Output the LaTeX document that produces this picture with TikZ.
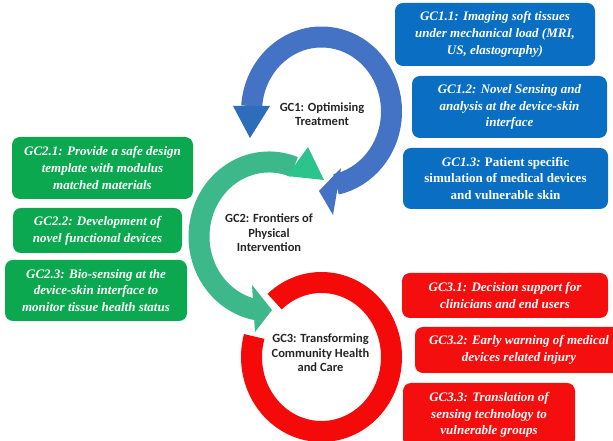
\documentclass[tikz,border=0pt]{standalone}
\usepackage{fontspec}
\setmainfont{Liberation Serif}
\newfontfamily\hubfont{Carlito}

\definecolor{arcblue}{HTML}{4472C4}
\definecolor{headblue}{HTML}{2E6DB9}
\definecolor{arcgreen}{HTML}{3DB88B}
\definecolor{headgreen}{HTML}{2CC48C}
\definecolor{ringred}{HTML}{F50A0A}
\definecolor{boxblue}{HTML}{0A6FC2}
\definecolor{boxgreen}{HTML}{0BA84F}
\definecolor{boxred}{HTML}{F40E0E}
\definecolor{hubgray}{HTML}{262626}

\tikzset{
  band/.style={line width=21pt},
  gcbox/.style={rounded corners=8pt, inner sep=0pt, align=center, text=white,
    font=\fontsize{13}{16.7}\selectfont\bfseries\itshape},
  hub/.style={align=center, text=hubgray,
    font=\hubfont\fontsize{12.5}{14.5}\selectfont\bfseries},
}

\begin{document}
\begin{tikzpicture}[x=1pt, y=1pt]
\useasboundingbox (0,0) rectangle (613,441);
\clip (0,0) rectangle (613,441);
\fill[white] (0,0) rectangle (613,441);

% ring centres (all three rings share the same radii)
\coordinate (cBlue)  at (321.5,329.5);
\coordinate (cGreen) at (269,204.5);
\coordinate (cRed)   at (321.5,84);

% GC3: open red ring
\draw[band, ringred] ([shift={(132:70 and 74.5)}]cRed)
  arc[start angle=132, end angle=-196, x radius=70, y radius=74.5];

% GC2: green arc with two heads
\draw[band, arcgreen] ([shift={(69:70 and 74.5)}]cGreen)
  arc[start angle=69, end angle=260, x radius=70, y radius=74.5];
\fill[headgreen] (308,294) -- (324,261) -- (287,265) -- cycle;
\fill[arcgreen] (252,156) -- (272,131) -- (255,109) -- cycle;

% GC1: blue arc with two heads
\draw[band, arcblue] ([shift={(176:70 and 74.5)}]cBlue)
  arc[start angle=176, end angle=-78, x radius=70, y radius=74.5];
\fill[headblue] (233,335) -- (270,335) -- (250,303) -- cycle;
\fill[arcblue] (341,273) -- (319,250) -- (333,226) -- cycle;

% hub labels
\node[hub] (gc1) at (322,327) {GC1: Optimising\\Treatment};
\node[hub] (gc2) at (269,208) {GC2: Frontiers of\\Physical\\Intervention};
\node[hub] (gc3) at (320.5,88) {GC3: Transforming\\Community Health\\and Care};

% GC1 boxes
\node[gcbox, fill=boxblue, minimum width=200pt, minimum height=63pt] (gc11) at (495,406.5)
  {GC1.1: Imaging soft tissues\\under mechanical load (MRI,\\US, elastography)};
\node[gcbox, fill=boxblue, minimum width=195pt, minimum height=62pt] (gc12) at (509.5,334)
  {GC1.2: Novel Sensing and\\analysis at the device-skin\\interface};
\node[gcbox, fill=boxblue, minimum width=205pt, minimum height=61pt, font=\fontsize{13}{16.7}\selectfont\bfseries] (gc13) at (505.5,262.5)
  {\textit{GC1.3:} Patient specific\\simulation of medical devices\\and vulnerable skin};

% GC2 boxes
\node[gcbox, fill=boxgreen, minimum width=181pt, minimum height=62pt] (gc21) at (102.5,273)
  {GC2.1: Provide a safe design\\template with modulus\\matched materials};
\node[gcbox, fill=boxgreen, minimum width=169pt, minimum height=45pt] (gc22) at (97.5,210.5)
  {GC2.2: Development of\\novel functional devices};
\node[gcbox, fill=boxgreen, minimum width=182pt, minimum height=61pt] (gc23) at (96,150.5)
  {GC2.3: Bio-sensing at the\\device-skin interface to\\monitor tissue health status};

% GC3 boxes
\node[gcbox, fill=boxred, minimum width=206pt, minimum height=45pt] (gc31) at (505,145.5)
  {GC3.1: Decision support for\\clinicians and end users};
\node[gcbox, fill=boxred, minimum width=208pt, minimum height=46pt] (gc32) at (519,91)
  {GC3.2: Early warning of medical\\devices related injury};
\node[gcbox, fill=boxred, minimum width=172pt, minimum height=64pt] (gc33) at (489,26)
  {GC3.3: Translation of\\sensing technology to\\vulnerable groups};
\end{tikzpicture}
\end{document}
